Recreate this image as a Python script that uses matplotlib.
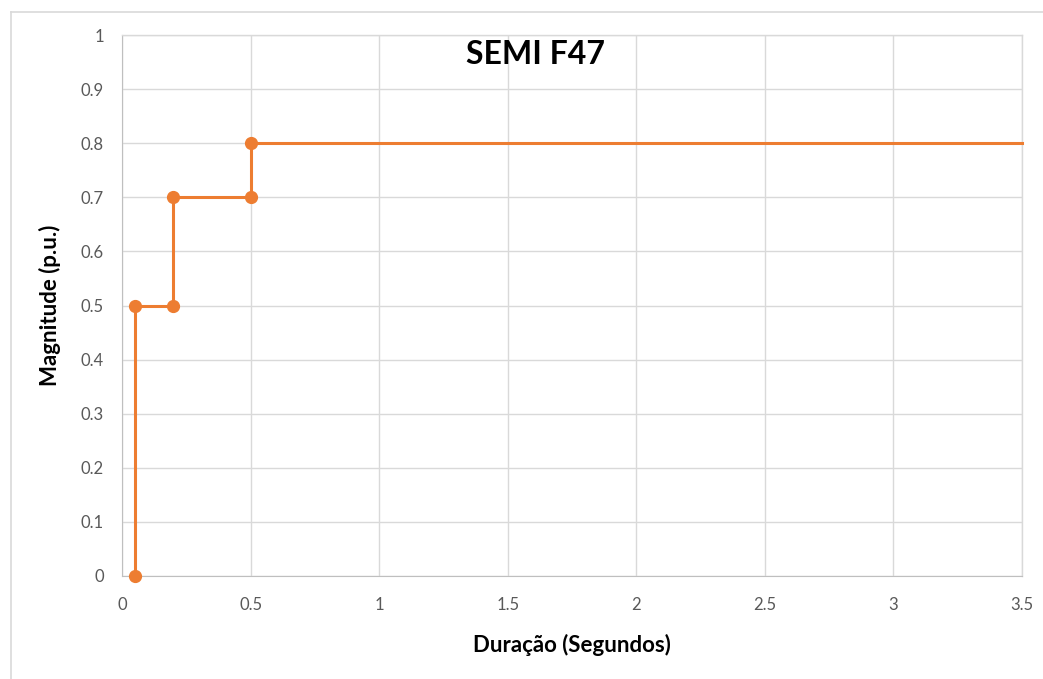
import matplotlib
matplotlib.use("Agg")
import matplotlib.pyplot as plt
from matplotlib.lines import Line2D

plt.rcParams['font.family'] = ['Lato', 'DejaVu Sans']

duration = [0.05, 0.05, 0.2, 0.2, 0.5, 0.5, 3.5]
magnitude = [0.0, 0.5, 0.5, 0.7, 0.7, 0.8, 0.8]
marker_count = 6
xticks = [0, 0.5, 1, 1.5, 2, 2.5, 3, 3.5]
xticklabels = ['0', '0.5', '1', '1.5', '2', '2.5', '3', '3.5']
yticks = [0, 0.1, 0.2, 0.3, 0.4, 0.5, 0.6, 0.7, 0.8, 0.9, 1]
yticklabels = ['0', '0.1', '0.2', '0.3', '0.4', '0.5', '0.6', '0.7', '0.8', '0.9', '1']

W, H = 1043, 679
fig = plt.figure(figsize=(W/100, H/100), dpi=100)
ax = fig.add_axes([122/W, 1-576/H, 900/W, 541/H])

orange = '#ED7D31'
ax.plot(duration, magnitude, color=orange, lw=2.2, zorder=3, clip_on=False)
ax.plot(duration[:marker_count], magnitude[:marker_count], 'o', color=orange,
        ms=8.5, zorder=4, clip_on=False)

ax.set_xlim(0, 3.5)
ax.set_ylim(0, 1)
ax.set_xticks(xticks)
ax.set_xticklabels(xticklabels)
ax.set_yticks(yticks)
ax.set_yticklabels(yticklabels)
ax.grid(True, color='#D9D9D9', lw=1.0, zorder=0)
ax.set_axisbelow(True)
for s in ['top', 'right']:
    ax.spines[s].set_color('#D9D9D9')
    ax.spines[s].set_linewidth(1.0)
ax.spines['bottom'].set_color('#BFBFBF')
ax.spines['left'].set_color('#BFBFBF')
ax.tick_params(length=0, labelsize=12, labelcolor='#595959')
ax.tick_params(axis='x', pad=15)
ax.tick_params(axis='y', pad=13)

ax.set_xlabel('Duração (Segundos)', fontsize=16, fontweight='bold', color='black', labelpad=15)
ax.set_ylabel('Magnitude (p.u.)', fontsize=16, fontweight='bold', color='black', labelpad=14)
ax.text(0.459, 0.99, 'SEMI F47', transform=ax.transAxes, ha='center', va='top',
        fontsize=23, fontweight='bold', color='black')

# outer chart border
fig.add_artist(Line2D([11/W, 11/W], [0, 1-12/H], transform=fig.transFigure, color='#D9D9D9', lw=1.2))
fig.add_artist(Line2D([11/W, 1], [1-12/H, 1-12/H], transform=fig.transFigure, color='#D9D9D9', lw=1.2))

fig.savefig('out.png', dpi=100)
